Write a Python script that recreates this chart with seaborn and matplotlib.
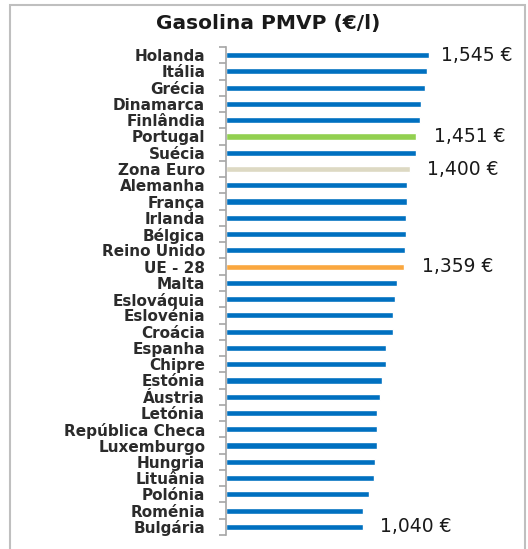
import matplotlib
matplotlib.use("Agg")
import matplotlib.pyplot as plt
from matplotlib.patches import Rectangle
import numpy as np
import pandas as pd
import seaborn as sns

countries = ["Holanda", "Itália", "Grécia", "Dinamarca", "Finlândia", "Portugal",
             "Suécia", "Zona Euro", "Alemanha", "França", "Irlanda", "Bélgica",
             "Reino Unido", "UE - 28", "Malta", "Eslováquia", "Eslovénia", "Croácia",
             "Espanha", "Chipre", "Estónia", "Áustria", "Letónia", "República Checa",
             "Luxemburgo", "Hungria", "Lituânia", "Polónia", "Roménia", "Bulgária"]
prices = [1.545, 1.534, 1.517, 1.488, 1.476, 1.451, 1.446, 1.400, 1.377, 1.376,
          1.370, 1.368, 1.360, 1.359, 1.304, 1.289, 1.276, 1.271, 1.218, 1.217,
          1.185, 1.177, 1.154, 1.152, 1.150, 1.137, 1.129, 1.088, 1.046, 1.040]
highlight_colors = {"Portugal": "#92D050", "Zona Euro": "#DDD9C3", "UE - 28": "#FAA73F"}
labelled = {"Holanda": "1,545 €", "Portugal": "1,451 €", "Zona Euro": "1,400 €",
            "UE - 28": "1,359 €", "Bulgária": "1,040 €"}

df = pd.DataFrame({"country": countries, "price": prices})
palette = {c: highlight_colors.get(c, "#0070C0") for c in countries}

sns.set_style("white")
plt.rcParams["font.family"] = ["DejaVu Sans"]

fig = plt.figure(figsize=(5.28, 5.49), dpi=100)
ax = fig.add_axes([226 / 528, 1 - 535 / 549, (520 - 226) / 528, (535 - 47) / 549])

sns.barplot(data=df, y="country", x="price", hue="country", palette=palette,
            legend=False, width=0.38, ax=ax, saturation=1)

ax.set_xlim(0, 2.24)
ax.set_ylim(len(countries) - 0.5, -0.5)
ax.set_xlabel("")
ax.set_ylabel("")
ax.set_xticks([])
for side in ["top", "right", "bottom"]:
    ax.spines[side].set_visible(False)
ax.spines["left"].set_color("#A6A6A6")
ax.spines["left"].set_linewidth(1.2)

ax.set_yticks(range(len(countries)))
ax.set_yticklabels(countries, fontsize=11, fontweight="bold", color="#2B2B2B")
ax.tick_params(axis="y", which="major", length=0, pad=15)
ax.set_yticks(np.arange(-0.5, len(countries), 1), minor=True)
ax.tick_params(axis="y", which="minor", left=True, length=5, color="#A6A6A6", width=1.2)

for i, c in enumerate(countries):
    if c in labelled:
        gap = 0.09 if i == 0 else 0.135
        ax.text(prices[i] + gap, i, labelled[c], va="center", ha="left",
                fontsize=13.5, color="#1A1A1A")

fig.text(268 / 528, 1 - 23 / 549, "Gasolina PMVP (€/l)", ha="center", va="center",
         fontsize=14.5, fontweight="bold", color="#1A1A1A")

fig.patches.append(Rectangle((10 / 528, -0.05), 515 / 528, 1.05 - 5 / 549,
                             transform=fig.transFigure, fill=False,
                             edgecolor="#BFBFBF", linewidth=1.5))

fig.savefig("out.png", dpi=100)
